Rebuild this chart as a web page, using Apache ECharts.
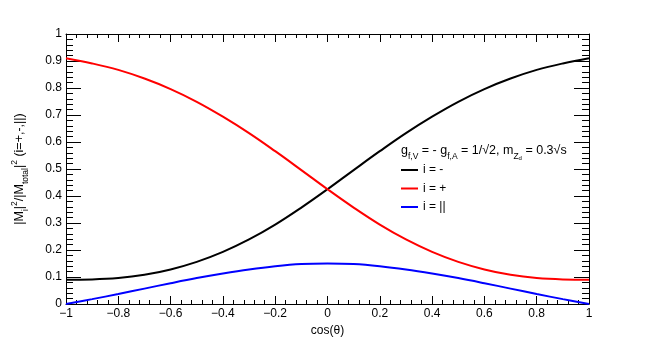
<!DOCTYPE html>
<html>
<head>
<meta charset="utf-8">
<script src="https://cdn.jsdelivr.net/npm/echarts@6/dist/echarts.min.js"></script>
<style>
  html, body { margin: 0; padding: 0; background: #fff; }
  #chart { width: 654px; height: 338px; }
</style>
</head>
<body>
<div id="chart"></div>
<script>
// cos(theta) sample points and the three helicity fractions
const cosTheta = [-1, -0.9, -0.8, -0.7, -0.6, -0.5, -0.4, -0.3, -0.2, -0.1, 0,
  0.1, 0.2, 0.3, 0.4, 0.5, 0.6, 0.7, 0.8, 0.9, 1];
const fracMinus = [0.090, 0.091, 0.096, 0.108, 0.128, 0.156, 0.193, 0.239, 0.294, 0.357, 0.425,
  0.496, 0.566, 0.633, 0.694, 0.749, 0.796, 0.835, 0.867, 0.891, 0.910];
const fracPlus = [0.910, 0.891, 0.867, 0.835, 0.796, 0.749, 0.694, 0.633, 0.566, 0.496, 0.425,
  0.357, 0.294, 0.239, 0.193, 0.156, 0.128, 0.108, 0.096, 0.091, 0.090];
const fracPar = [0, 0.018, 0.037, 0.057, 0.077, 0.096, 0.113, 0.128, 0.140, 0.148, 0.150,
  0.148, 0.140, 0.128, 0.113, 0.096, 0.077, 0.057, 0.037, 0.018, 0];
const seriesNames = ['i = -', 'i = +', 'i = ||'];
const seriesColors = ['#000000', '#ff0000', '#0000ff'];

const FONT = 'Liberation Sans';

const fmt = v => {
  const r = Math.round(v * 10) / 10;
  return String(r).replace('-', '\u2212');
};

const rich = {
  n: { fontFamily: FONT, fontSize: 12.5, lineHeight: 20, verticalAlign: 'middle', color: '#000' },
  sub: { fontFamily: FONT, fontSize: 8.5, lineHeight: 12, verticalAlign: 'bottom', color: '#000' },
  sub2: { fontFamily: FONT, fontSize: 6, lineHeight: 6, verticalAlign: 'bottom', color: '#000' },
  sup: { fontFamily: FONT, fontSize: 8.5, lineHeight: 8, verticalAlign: 'top', color: '#000' }
};

function xAxisCfg(pos, showLabel) {
  return {
    type: 'value',
    position: pos,
    min: -1,
    max: 1,
    interval: 0.2,
    name: showLabel ? 'cos(\u03b8)' : '',
    nameLocation: 'middle',
    nameGap: 17,
    nameTextStyle: { fontFamily: FONT, fontSize: 12, color: '#000' },
    axisLine: { show: true, onZero: false, lineStyle: { color: '#000', width: 1 } },
    axisTick: { show: true, inside: true, length: 8, lineStyle: { color: '#000' } },
    minorTick: { show: true, splitNumber: 5, length: 4, lineStyle: { color: '#000' } },
    splitLine: { show: false },
    axisLabel: { show: showLabel, formatter: fmt, fontFamily: FONT, fontSize: 12, color: '#000', margin: 4 }
  };
}

function yAxisCfg(pos, showLabel) {
  return {
    type: 'value',
    position: pos,
    min: 0,
    max: 1,
    interval: 0.1,
    name: showLabel ? '{n||M}{sub|i}{n||}{sup|2}{n|/|M}{sub|total}{n||}{sup|2}{n| (i=+,-,||)}' : '',
    nameLocation: 'middle',
    nameRotate: 90,
    nameGap: 36,
    nameTextStyle: { fontFamily: FONT, fontSize: 12, color: '#000', rich: rich },
    axisLine: { show: true, onZero: false, lineStyle: { color: '#000', width: 1 } },
    axisTick: { show: true, inside: true, length: 15, lineStyle: { color: '#000' } },
    minorTick: { show: true, splitNumber: 5, length: 7, lineStyle: { color: '#000' } },
    splitLine: { show: false },
    axisLabel: { show: showLabel, formatter: fmt, fontFamily: FONT, fontSize: 12, color: '#000', margin: 4 }
  };
}

const fracs = [fracMinus, fracPlus, fracPar];

const chart = echarts.init(document.getElementById('chart'), null, { renderer: 'canvas' });
chart.setOption({
  animation: false,
  backgroundColor: '#fff',
  grid: { left: 66, right: 65, top: 34, bottom: 34, outerBoundsMode: 'none', containLabel: false },
  title: {
    left: 396,
    top: 136,
    text: '{n|g}{sub|f,V}{n| = - g}{sub|f,A}{n| = 1/\u221a2, m}{sub|Z}{sub2|d}{n| = 0.3\u221as}',
    textStyle: { fontFamily: FONT, fontSize: 12, color: '#000', fontWeight: 'normal', rich: rich }
  },
  legend: {
    left: 396,
    top: 158,
    orient: 'vertical',
    icon: 'rect',
    itemWidth: 17,
    itemHeight: 2,
    itemGap: 4.5,
    data: seriesNames,
    textStyle: { fontFamily: FONT, fontSize: 12, lineHeight: 14, color: '#000' }
  },
  xAxis: [xAxisCfg('bottom', true), xAxisCfg('top', false)],
  yAxis: [yAxisCfg('left', true), yAxisCfg('right', false)],
  series: seriesNames.map((name, k) => ({
    name: name,
    type: 'line',
    symbol: 'none',
    smooth: 0.4,
    xAxisIndex: 0,
    yAxisIndex: 0,
    lineStyle: { color: seriesColors[k], width: 2 },
    itemStyle: { color: seriesColors[k] },
    data: cosTheta.map((x, i) => [x, fracs[k][i]])
  }))
});
</script>
</body>
</html>
